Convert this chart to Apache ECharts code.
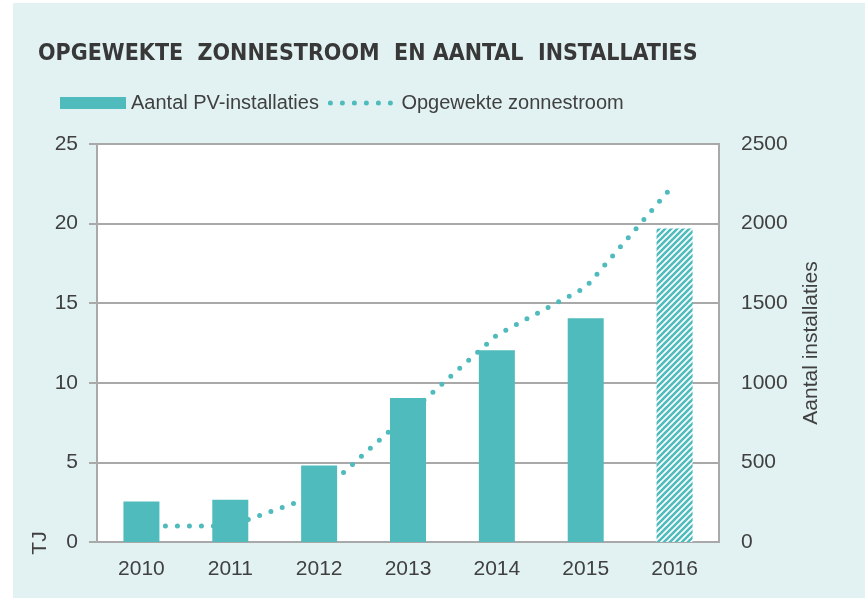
<!DOCTYPE html>
<html>
<head>
<meta charset="utf-8">
<script src="https://cdn.jsdelivr.net/npm/echarts@6/dist/echarts.min.js"></script>
<style>
  html, body { margin: 0; padding: 0; background: #ffffff; }
  #frame { position: absolute; left: 13px; top: 3px; width: 852px; height: 595px; background: #e2f2f2; }
  #main { position: absolute; left: 0; top: 0; width: 865px; height: 598px; }
</style>
</head>
<body>
<div id="frame"></div>
<div id="main"></div>
<script>
// jaren op de x-as
const years = ['2010', '2011', '2012', '2013', '2014', '2015', '2016']
// aantal PV-installaties (rechter as)
const installaties = [255, 265, 480, 905, 1205, 1405, 1970]
// opgewekte zonnestroom in TJ (linker as)
const zonnestroom = [1.0, 1.0, 3.0, 8.0, 13.0, 16.0, 22.5]

const teal = '#4fbbbd'
const grey = '#a9a9a9'
const txt = '#404040'
const font = 'Liberation Sans'
const dots = { color: teal, width: 5, type: [0, 12], cap: 'round' }

// gearceerd patroon voor 2016 (raming)
function makeHatch() {
    const c = document.createElement('canvas')
    c.width = 6
    c.height = 6
    const ctx = c.getContext('2d')
    ctx.fillStyle = '#ffffff'
    ctx.fillRect(0, 0, 6, 6)
    ctx.strokeStyle = teal
    ctx.lineWidth = 2.6
    ctx.beginPath()
    ctx.moveTo(-1, 7); ctx.lineTo(7, -1)
    ctx.moveTo(-1, 1); ctx.lineTo(1, -1)
    ctx.moveTo(5, 7); ctx.lineTo(7, 5)
    ctx.stroke()
    return c
}

const barData = installaties.map(function (v, i) {
    if (i === installaties.length - 1) {
        return { value: v, itemStyle: { color: { image: makeHatch(), repeat: 'repeat' } } }
    }
    return v
})

const myChart = echarts.init(document.getElementById('main'))
const option = {
    animation: false,
    textStyle: { fontFamily: font },
    title: {
        text: 'OPGEWEKTE  ZONNESTROOM  EN AANTAL  INSTALLATIES',
        left: 33,
        top: 38,
        textStyle: {
            fontFamily: 'DejaVu Sans Condensed',
            fontWeight: 'bold',
            fontSize: 23,
            color: '#383838'
        }
    },
    legend: {
        left: 55,
        top: 88,
        itemWidth: 66,
        itemHeight: 12,
        itemGap: 9,
        textStyle: { fontSize: 20, color: txt, fontFamily: font },
        data: [
            { name: 'Aantal PV-installaties', icon: 'rect' },
            {
                name: 'Opgewekte zonnestroom',
                itemStyle: { color: 'rgba(0,0,0,0)', borderWidth: 0 },
                lineStyle: dots
            }
        ]
    },
    grid: {
        left: 97,
        right: 146,
        top: 144,
        bottom: 56,
        show: true,
        backgroundColor: '#ffffff',
        borderColor: grey,
        borderWidth: 2
    },
    graphic: [
        {
            type: 'text',
            x: 40,
            y: 543,
            rotation: Math.PI / 2,
            style: { text: 'TJ', fontSize: 21, fill: txt, fontFamily: font, align: 'center', verticalAlign: 'middle' }
        }
    ],
    xAxis: {
        type: 'category',
        data: years,
        axisLine: { lineStyle: { color: grey, width: 2 } },
        axisTick: { show: false },
        axisLabel: { fontSize: 21, color: txt, margin: 17 }
    },
    yAxis: [
        {
            type: 'value',
            min: 0,
            max: 25,
            interval: 5,
            axisLine: { show: true, lineStyle: { color: grey, width: 2 } },
            axisTick: { show: true, length: 8, lineStyle: { color: grey, width: 2 } },
            axisLabel: { fontSize: 21, color: txt, margin: 19 },
            splitLine: { lineStyle: { color: grey, width: 2 } }
        },
        {
            type: 'value',
            min: 0,
            max: 2500,
            interval: 500,
            position: 'right',
            name: 'Aantal installaties',
            nameLocation: 'middle',
            nameRotate: 90,
            nameGap: 82,
            nameTextStyle: { fontSize: 21, color: txt },
            axisLine: { show: true, lineStyle: { color: grey, width: 2 } },
            axisTick: { show: false },
            axisLabel: { fontSize: 21, color: txt, margin: 22, formatter: function (v) { return String(v) } },
            splitLine: { show: false }
        }
    ],
    series: [
        {
            name: 'Aantal PV-installaties',
            type: 'bar',
            yAxisIndex: 1,
            barWidth: 36,
            z: 3,
            itemStyle: { color: teal },
            data: barData
        },
        {
            name: 'Opgewekte zonnestroom',
            type: 'line',
            yAxisIndex: 0,
            z: 2,
            symbol: 'none',
            color: teal,
            lineStyle: dots,
            data: zonnestroom
        }
    ]
}
myChart.setOption(option)
</script>
</body>
</html>
